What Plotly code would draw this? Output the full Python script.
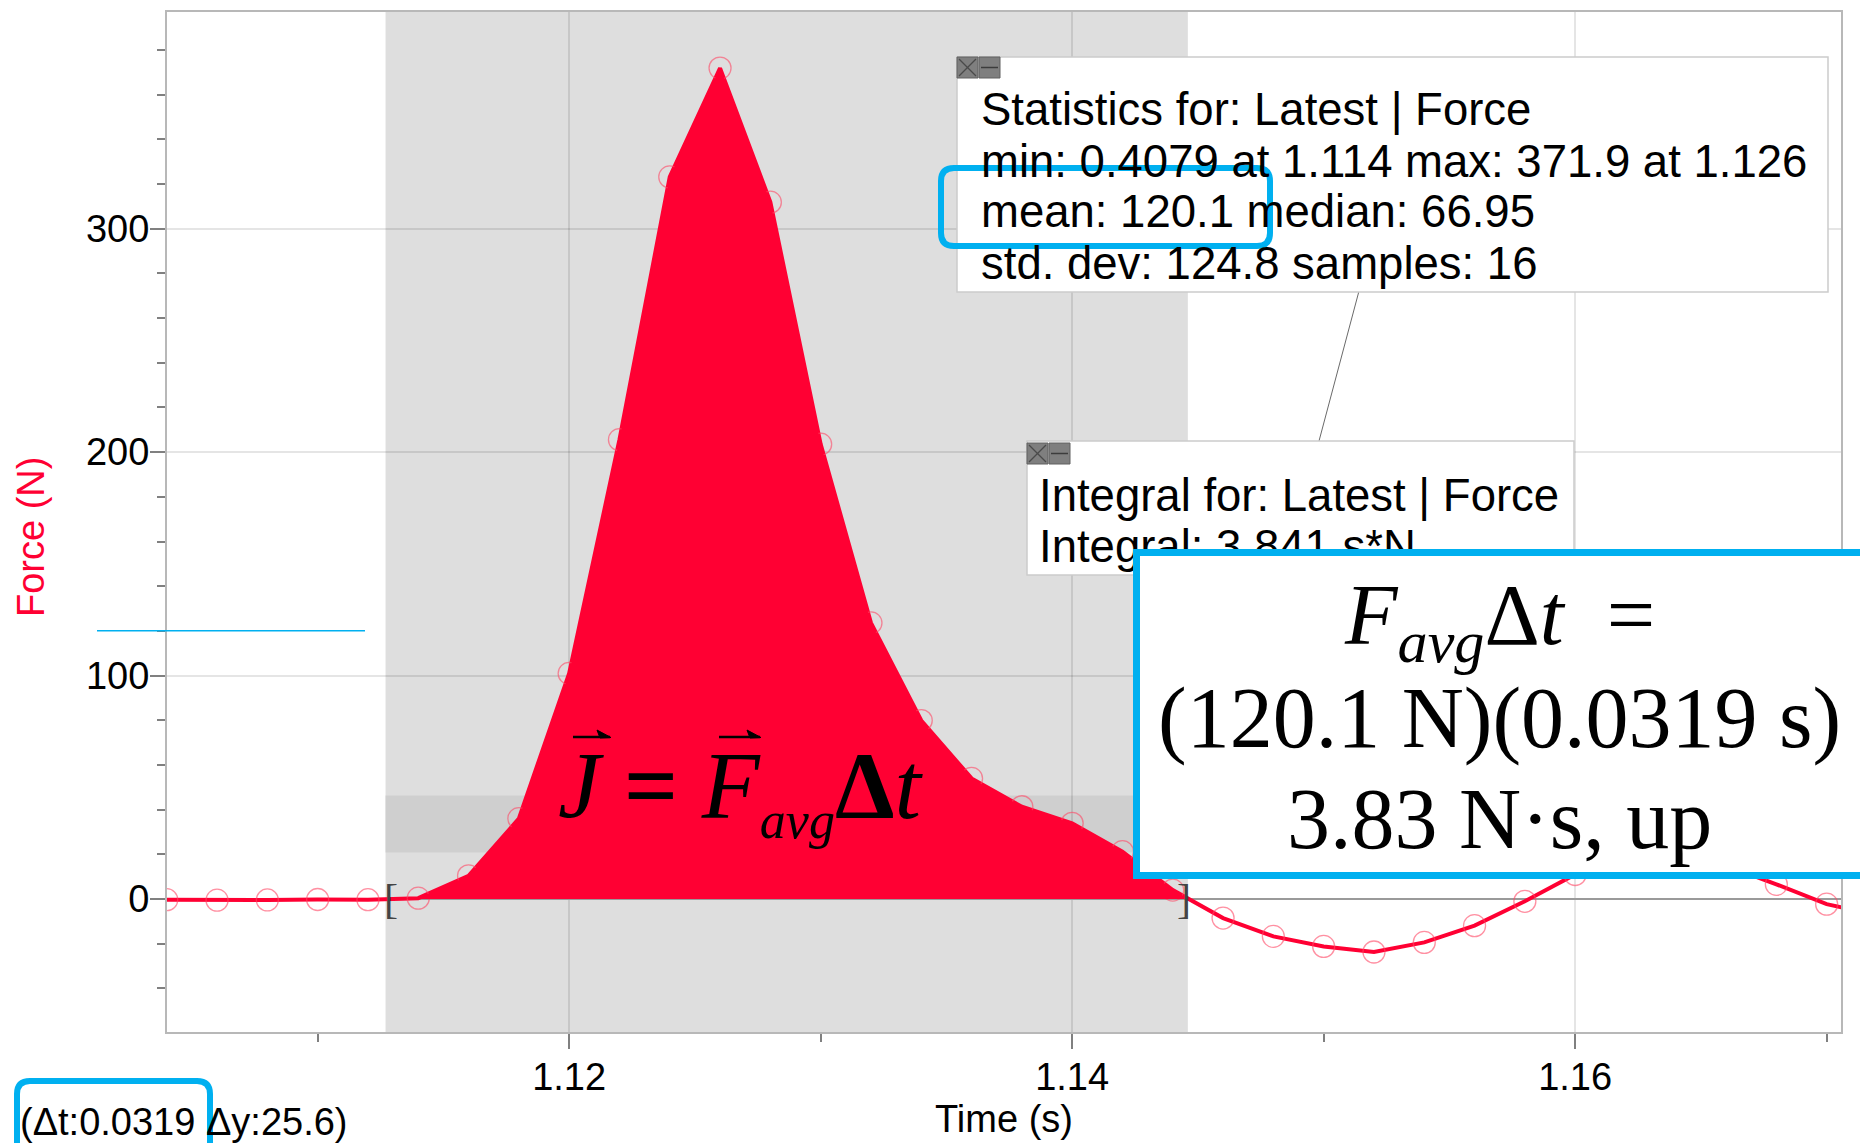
import numpy as np
import plotly.graph_objects as go

# ---------------- data ----------------
time_s = [1.104, 1.106, 1.108, 1.110, 1.112, 1.114, 1.116, 1.118, 1.120, 1.122,
          1.124, 1.126, 1.128, 1.130, 1.132, 1.134, 1.136, 1.138, 1.140, 1.142,
          1.144, 1.146, 1.148, 1.150, 1.152, 1.154, 1.156, 1.158, 1.160, 1.162,
          1.164, 1.166, 1.168, 1.170, 1.172]
force_n = [-0.3, -0.5, -0.4, -0.2, -0.3, 0.4079, 10.4, 36.0, 101.0, 205.6,
           323.2, 371.9, 311.9, 203.6, 123.6, 79.9, 54.0, 41.3, 33.9, 21.2,
           4.0, -8.5, -16.7, -21.2, -23.7, -19.4, -11.9, -1.0, 11.0, 17.5,
           19.0, 15.0, 6.6, -2.3, -7.0]

sel_start, sel_end = 1.1127, 1.1446      # selected region (Δt = 0.0319)
band_lo, band_hi = 20.8, 46.4            # Δy band (25.6)
mean_force = 120.1

x_tick_vals = [1.12, 1.14, 1.16]
y_tick_vals = [0, 100, 200, 300]

stats_lines = ["Statistics for: Latest | Force",
               "min: 0.4079 at 1.114 max: 371.9 at 1.126",
               "mean: 120.1 median: 66.95",
               "std. dev: 124.8 samples: 16"]
integral_lines = ["Integral for: Latest | Force",
                  "Integral: 3.841 s*N"]
delta_label = "(Δt:0.0319 Δy:25.6)"
box_lines = ["<i>F</i><sub><i>avg</i></sub>Δ<i>t</i>\u00a0\u00a0=",
             "(120.1 N)(0.0319 s)",
             "3.83 N·s, up"]
formula = ("<i>J</i> <b>=</b> <i>F</i><sub><span style='font-size:52px'><i>avg</i></span></sub>"
           "<b>Δ</b><i>t</i>")
y_title = "Force (N)"
x_title = "Time (s)"

# ---------------- layout helpers ----------------
W, H = 1860, 1143
L, R, T, B = 167, 19, 12, 111
PW, PH = W - L - R, H - T - B
RED = "#ff0033"
CYAN = "#00b0f0"
SANS = "Arial, Liberation Sans, sans-serif"
SERIF = "Times New Roman, Liberation Serif, serif"


def px(x):
    return (x - L) / PW


def py(y):
    return (H - B - y) / PH


def rr_path(x0, y0, x1, y1, r):
    return (f"M {px(x0 + r)},{py(y0)} L {px(x1 - r)},{py(y0)} "
            f"Q {px(x1)},{py(y0)} {px(x1)},{py(y0 + r)} L {px(x1)},{py(y1 - r)} "
            f"Q {px(x1)},{py(y1)} {px(x1 - r)},{py(y1)} L {px(x0 + r)},{py(y1)} "
            f"Q {px(x0)},{py(y1)} {px(x0)},{py(y1 - r)} L {px(x0)},{py(y0 + r)} "
            f"Q {px(x0)},{py(y0)} {px(x0 + r)},{py(y0)} Z")


def prect(x0, y0, x1, y1, fill, line, lw):
    return dict(type="rect", xref="paper", yref="paper", x0=px(x0), x1=px(x1),
                y0=py(y1), y1=py(y0), fillcolor=fill,
                line=dict(color=line, width=lw), layer="above")


def pline(x0, y0, x1, y1, color, lw):
    return dict(type="line", xref="paper", yref="paper", x0=px(x0), x1=px(x1),
                y0=py(y0), y1=py(y1), line=dict(color=color, width=lw), layer="above")


def icons(x0, y0):
    s = []
    s.append(prect(x0, y0, x0 + 21, y0 + 21, "#7f7f7f", "#606060", 1))
    s.append(prect(x0 + 22, y0, x0 + 43, y0 + 21, "#7f7f7f", "#606060", 1))
    s.append(pline(x0 + 2, y0 + 2, x0 + 19, y0 + 19, "#4a4a4a", 1.2))
    s.append(pline(x0 + 2, y0 + 19, x0 + 19, y0 + 2, "#4a4a4a", 1.2))
    s.append(pline(x0 + 24, y0 + 10.5, x0 + 41, y0 + 10.5, "#3c3c3c", 1.5))
    return s


def vec_arrow(x0, x1, y):
    """Thin arrow (harpoon style) drawn over a vector symbol, pixel coords."""
    return [
        pline(x0, y, x1, y, "black", 2.5),
        dict(type="path", xref="paper", yref="paper",
             path=(f"M {px(x1 + 1)},{py(y + 0.5)} L {px(x1 - 13)},{py(y - 7)} "
                   f"L {px(x1 - 10)},{py(y + 1)} Z"),
             fillcolor="black", line=dict(color="black", width=1), layer="above"),
    ]


# ---------------- traces ----------------
fig = go.Figure()
fig.add_trace(go.Scatter(
    x=time_s, y=force_n, mode="lines+markers",
    line=dict(color=RED, width=4),
    marker=dict(symbol="circle-open", size=22, color="rgba(255,70,100,0.6)",
                line=dict(width=1.3)),
    showlegend=False, hoverinfo="x+y"))

t_arr = np.array(time_s)
f_arr = np.array(force_n)
inside = (t_arr >= sel_start) & (t_arr <= sel_end)
fx = np.concatenate([[sel_start], t_arr[inside], [sel_end]])
fy = np.interp(fx, t_arr, f_arr)
fig.add_trace(go.Scatter(
    x=fx, y=fy, mode="lines", fill="tozeroy", fillcolor=RED,
    line=dict(width=0, color=RED), showlegend=False, hoverinfo="skip"))

# ---------------- shapes ----------------
shapes = [
    dict(type="rect", xref="x", yref="paper", x0=sel_start, x1=sel_end, y0=0, y1=1,
         fillcolor="#dedede", line=dict(width=0), layer="below"),
    dict(type="rect", xref="x", yref="y", x0=sel_start, x1=sel_end, y0=band_lo, y1=band_hi,
         fillcolor="#cfcfcf", line=dict(width=0), layer="below"),
    dict(type="line", xref="paper", yref="y", x0=px(97), x1=px(365),
         y0=mean_force, y1=mean_force, line=dict(color=CYAN, width=1.5), layer="above"),
    # connector between boxes
    pline(1359, 291, 1319, 441, "#6a6a6a", 1),
    # statistics box
    prect(957, 57, 1828, 292, "white", "#cccccc", 1.5),
    # integral box
    prect(1027, 441, 1574, 575, "white", "#cccccc", 1.5),
]
shapes += icons(957, 57)
shapes += icons(1027, 443)
shapes.append(dict(type="path", xref="paper", yref="paper", path=rr_path(941, 168, 1270, 246, 13),
                   line=dict(color=CYAN, width=6), fillcolor="rgba(0,0,0,0)", layer="above"))
shapes.append(dict(type="path", xref="paper", yref="paper", path=rr_path(17, 1081, 210, 1175, 13),
                   line=dict(color=CYAN, width=6), fillcolor="rgba(0,0,0,0)", layer="above"))
shapes += vec_arrow(573, 610, 737)
shapes += vec_arrow(719, 760, 737)

# ---------------- annotations ----------------
ann = []
ann.append(dict(x=sel_start, y=0, xref="x", yref="y", text="[", showarrow=False, xshift=-4,
                xanchor="left", yanchor="middle", font=dict(family=SERIF, size=42, color="#444444")))
ann.append(dict(x=sel_end, y=0, xref="x", yref="y", text="]", showarrow=False, xshift=5,
                xanchor="right", yanchor="middle", font=dict(family=SERIF, size=42, color="#444444")))
ann.append(dict(x=px(741), y=py(791), xref="paper", yref="paper", text=formula, showarrow=False,
                xanchor="center", yanchor="middle", font=dict(family=SERIF, size=95, color="black")))
for i, line in enumerate(stats_lines):
    ann.append(dict(x=px(979), y=py(110 + 51 * i), xref="paper", yref="paper", text=line,
                    showarrow=False, xanchor="left", yanchor="middle",
                    font=dict(family=SANS, size=45.5, color="black")))
for i, line in enumerate(integral_lines):
    ann.append(dict(x=px(1037), y=py(495 + 51 * i), xref="paper", yref="paper", text=line,
                    showarrow=False, xanchor="left", yanchor="middle",
                    font=dict(family=SANS, size=45.5, color="black")))
# big answer box (annotation so that it covers the integral text)
ann.append(dict(x=px(1133), y=py(549), xref="paper", yref="paper", text=" ",
                showarrow=False, xanchor="left", yanchor="top", width=728, height=316,
                bgcolor="white", bordercolor=CYAN, borderwidth=7, borderpad=0,
                font=dict(size=10)))
for yc, line in zip([621, 718, 819], box_lines):
    ann.append(dict(x=px(1499), y=py(yc), xref="paper", yref="paper", text=line,
                    showarrow=False, xanchor="center", yanchor="middle",
                    font=dict(family=SERIF, size=86, color="black")))
ann.append(dict(x=px(18), y=py(1122), xref="paper", yref="paper", text=delta_label,
                showarrow=False, xanchor="left", yanchor="middle",
                font=dict(family=SANS, size=38, color="black")))
# y axis title (placed to match the reference position)
ann.append(dict(x=px(31), y=py(537), xref="paper", yref="paper", text=y_title, textangle=-90,
                showarrow=False, xanchor="center", yanchor="middle",
                font=dict(family=SANS, size=38, color=RED)))

# ---------------- layout ----------------
axis_common = dict(showline=True, linecolor="#b8b8b8", linewidth=2, mirror=True,
                   ticks="outside", ticklen=15, tickwidth=1.5, tickcolor="#808080",
                   showgrid=True, gridcolor="rgba(0,0,0,0.1)", gridwidth=1.5,
                   tickfont=dict(family=SANS, size=38, color="black"))

fig.update_layout(
    width=W, height=H, margin=dict(l=L, r=R, t=T, b=B, autoexpand=False),
    paper_bgcolor="white", plot_bgcolor="white", showlegend=False,
    xaxis=dict(range=[1.10401, 1.17057], tickmode="array", tickvals=x_tick_vals,
               ticktext=[f"{v:.2f}" for v in x_tick_vals], zeroline=False,
               ticklabelstandoff=-5,
               minor=dict(tickmode="linear", tick0=1.11, dtick=0.01, ticks="outside", ticklen=8,
                          tickwidth=1.5, tickcolor="#808080", showgrid=False),
               title=dict(text=x_title, font=dict(family=SANS, size=38, color="black"), standoff=8),
               **axis_common),
    yaxis=dict(range=[-59.5, 397.0], tickmode="array", tickvals=y_tick_vals,
               ticktext=[str(v) for v in y_tick_vals], ticklabelstandoff=-7,
               zeroline=True, zerolinecolor="#9a9a9a", zerolinewidth=1.5,
               minor=dict(tickmode="linear", tick0=0, dtick=20, ticks="outside", ticklen=8,
                          tickwidth=1.5, tickcolor="#808080", showgrid=False),
               **axis_common),
    shapes=shapes, annotations=ann,
)

fig.write_html("out.html")
